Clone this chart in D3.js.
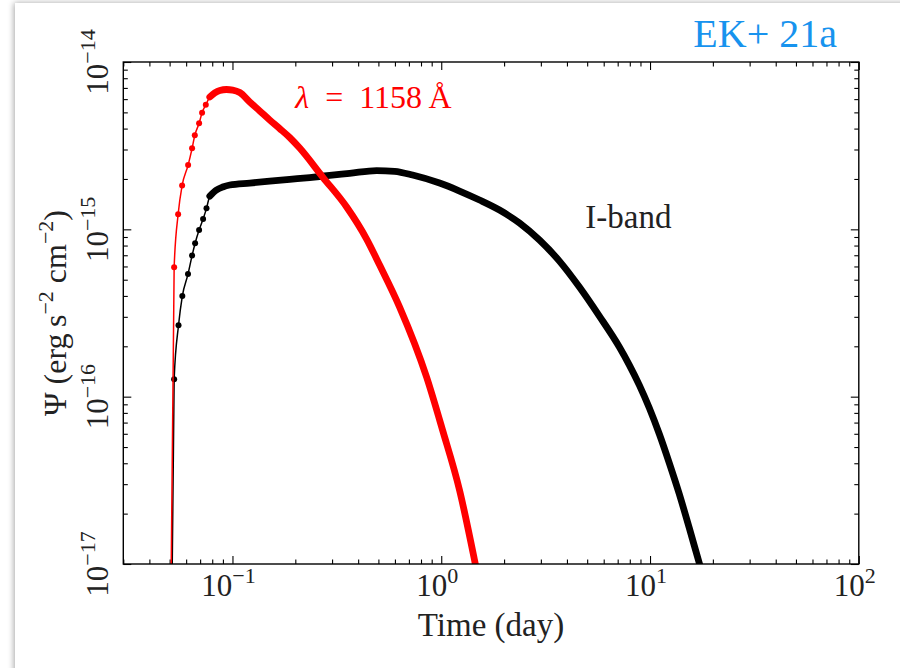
<!DOCTYPE html>
<html>
<head>
<meta charset="utf-8">
<script src="https://cdn.jsdelivr.net/npm/d3@7"></script>
<style>
  html, body { margin: 0; padding: 0; background: #fff; }
  svg { display: block; }
  text { font-family: "Liberation Serif", "DejaVu Serif", serif; }
</style>
</head>
<body>
<svg id="chart" width="900" height="668"></svg>
<script>
// Light curve at λ = 1158 Å (time in days, flux Ψ in erg s^-2 cm^-2)
const uvTime = [0.0500, 0.05256, 0.05492, 0.05740, 0.06131, 0.06406, 0.06601, 0.06921, 0.07152, 0.07452,
  0.07788, 0.08228, 0.08695, 0.09361, 0.1003, 0.1084, 0.1210, 0.1351, 0.1508, 0.1684,
  0.1880, 0.2099, 0.2705, 0.3523, 0.4391, 0.5068, 0.6318, 0.8506, 1.0144, 1.2238,
  1.4436, 1.5255];
const uvFlux = [1e-18, 5.93e-16, 1.23e-15, 1.83e-15, 2.42e-15, 3.05e-15, 3.65e-15, 4.30e-15, 4.98e-15, 5.55e-15,
  6.18e-15, 6.53e-15, 6.76e-15, 6.85e-15, 6.80e-15, 6.57e-15, 5.77e-15, 5.10e-15, 4.50e-15, 4.00e-15,
  3.54e-15, 3.06e-15, 2.054e-15, 1.36e-15, 8.75e-16, 6.12e-16, 3.43e-16, 1.31e-16, 6.32e-17, 2.76e-17,
  1.055e-17, 7.48e-18];

// I-band light curve
const iTime = [0.0505, 0.05256, 0.05516, 0.05752, 0.06124, 0.06406, 0.06624, 0.06921, 0.07233, 0.07510,
  0.07788, 0.08384, 0.08987, 0.09707, 0.1210, 0.1508, 0.1880, 0.2344, 0.2921, 0.3641,
  0.4902, 0.5979, 0.7290, 0.9815, 1.2238, 1.5255, 1.9011, 2.3703, 2.9544, 3.6813,
  4.5887, 5.7204, 7.1304, 7.9616, 8.8873, 9.9248, 11.08, 12.37, 13.81, 15.42,
  17.22, 18.19];
const iFlux = [1e-18, 1.27e-16, 2.67e-16, 3.99e-16, 5.40e-16, 6.97e-16, 8.25e-16, 9.90e-16, 1.152e-15, 1.335e-15,
  1.581e-15, 1.717e-15, 1.79e-15, 1.84e-15, 1.89e-15, 1.94e-15, 1.99e-15, 2.04e-15, 2.10e-15, 2.16e-15,
  2.246e-15, 2.22e-15, 2.11e-15, 1.89e-15, 1.694e-15, 1.497e-15, 1.304e-15, 1.091e-15, 8.63e-16, 6.46e-16,
  4.52e-16, 3.03e-16, 1.98e-16, 1.545e-16, 1.173e-16, 8.55e-17, 5.98e-17, 4.01e-17, 2.62e-17, 1.64e-17,
  1.012e-17, 8.01e-18];

// Axis ranges and tick labels
const xDomain = [0.03, 100];
const yDomain = [1e-17, 1e-14];
const xMajor = [0.1, 1, 10, 100];
const xMajorExp = ["\u22121", "0", "1", "2"];
const yMajor = [1e-17, 1e-16, 1e-15, 1e-14];
const yMajorExp = ["\u221217", "\u221216", "\u221215", "\u221214"];
// Samples after this time are spaced so closely that the markers merge into a band
const denseFrom = 0.077;

const svg = d3.select("#chart");
const W = 900, H = 668;
const plot = { left: 123.3, right: 858.8, top: 62, bottom: 564 };

// card with soft shadow
const defs = svg.append("defs");
const f = defs.append("filter").attr("id", "shadow")
  .attr("x", "-5%").attr("y", "-5%").attr("width", "110%").attr("height", "110%");
f.append("feDropShadow").attr("dx", -1).attr("dy", 0).attr("stdDeviation", 3)
  .attr("flood-color", "#000").attr("flood-opacity", 0.35);
svg.append("rect").attr("x", 0).attr("y", 0).attr("width", W).attr("height", H).attr("fill", "#fff");
svg.append("rect").attr("x", 15).attr("y", 3).attr("width", W + 40).attr("height", H + 40)
  .attr("fill", "#fff").attr("filter", "url(#shadow)");

defs.append("clipPath").attr("id", "plotClip").append("rect")
  .attr("x", plot.left).attr("y", plot.top)
  .attr("width", plot.right - plot.left).attr("height", plot.bottom - plot.top);

const x = d3.scaleLog().domain(xDomain).range([plot.left, plot.right]);
const y = d3.scaleLog().domain(yDomain).range([plot.bottom, plot.top]);

function minorTicks(domain) {
  const out = [];
  const lo = Math.floor(Math.log10(domain[0])), hi = Math.ceil(Math.log10(domain[1]));
  for (let d = lo; d < hi; d++) {
    for (let k = 2; k <= 9; k++) {
      const v = k * Math.pow(10, d);
      if (v >= domain[0] * 0.999 && v <= domain[1] * 1.001) out.push(v);
    }
  }
  return out;
}
const xMinor = minorTicks(xDomain);
const yMinor = minorTicks(yDomain);

// inward ticks on all four sides
function drawAxis(axisFn, scale, values, size, transform) {
  const g = svg.append("g").attr("transform", transform)
    .call(axisFn(scale).tickValues(values).tickSizeInner(size).tickSizeOuter(0).tickFormat(""));
  g.select(".domain").remove();
  g.selectAll(".tick line").attr("stroke", "#000").attr("stroke-width", 1.1);
  return g;
}
drawAxis(d3.axisBottom, x, xMajor, -8, `translate(0,${plot.bottom})`);
drawAxis(d3.axisBottom, x, xMinor, -4.5, `translate(0,${plot.bottom})`);
drawAxis(d3.axisTop, x, xMajor, -8, `translate(0,${plot.top})`);
drawAxis(d3.axisTop, x, xMinor, -4.5, `translate(0,${plot.top})`);
drawAxis(d3.axisLeft, y, yMajor, -8, `translate(${plot.left},0)`);
drawAxis(d3.axisLeft, y, yMinor, -4.5, `translate(${plot.left},0)`);
drawAxis(d3.axisRight, y, yMajor, -8, `translate(${plot.right},0)`);
drawAxis(d3.axisRight, y, yMinor, -4.5, `translate(${plot.right},0)`);

// curves
const series = [
  { t: iTime, f: iFlux, color: "#000" },
  { t: uvTime, f: uvFlux, color: "#ff0000" }
];
const gData = svg.append("g").attr("clip-path", "url(#plotClip)");
const line = d3.line().x(d => x(d[0])).y(d => y(d[1])).curve(d3.curveMonotoneX);
series.forEach(s => {
  const pts = s.t.map((t, i) => [t, s.f[i]]);
  gData.append("path").datum(pts).attr("d", line)
    .attr("fill", "none").attr("stroke", s.color).attr("stroke-width", 1.5);
  const dense = pts.filter(p => p[0] >= denseFrom);
  gData.append("path").datum(dense).attr("d", line)
    .attr("fill", "none").attr("stroke", s.color).attr("stroke-width", 6.8)
    .attr("stroke-linecap", "round").attr("stroke-linejoin", "round");
  gData.selectAll(null).data(pts.filter(p => p[0] < denseFrom)).enter().append("circle")
    .attr("cx", d => x(d[0])).attr("cy", d => y(d[1])).attr("r", 3)
    .attr("fill", s.color);
});

// frame
svg.append("rect").attr("x", plot.left).attr("y", plot.top)
  .attr("width", plot.right - plot.left).attr("height", plot.bottom - plot.top)
  .attr("fill", "none").attr("stroke", "#000").attr("stroke-width", 1.4);

// tick labels: 10^n
const labelColor = "#222";
xMajor.forEach((v, i) => {
  const t = svg.append("text").attr("x", x(v) - 4).attr("y", 596)
    .attr("text-anchor", "middle").attr("font-size", 31).attr("fill", labelColor);
  t.append("tspan").text("10");
  t.append("tspan").attr("dy", -13).attr("font-size", 22).text(xMajorExp[i]);
});
yMajor.forEach((v, i) => {
  const t = svg.append("text")
    .attr("transform", `translate(108,${y(v)}) rotate(-90)`)
    .attr("text-anchor", "middle").attr("font-size", 31).attr("fill", labelColor);
  t.append("tspan").text("10");
  t.append("tspan").attr("dy", -13).attr("font-size", 22).text(yMajorExp[i]);
});

// axis titles
svg.append("text").attr("x", (plot.left + plot.right) / 2).attr("y", 636)
  .attr("text-anchor", "middle").attr("font-size", 33).attr("fill", labelColor)
  .text("Time (day)");
const yl = svg.append("text")
  .attr("transform", `translate(66,${(plot.top + plot.bottom) / 2}) rotate(-90)`)
  .attr("text-anchor", "middle").attr("font-size", 32).attr("fill", labelColor);
yl.append("tspan").text("\u03A8 (erg\u2009s");
yl.append("tspan").attr("dy", -13).attr("font-size", 22).text("\u22122");
yl.append("tspan").attr("dy", 13).text(" cm");
yl.append("tspan").attr("dy", -13).attr("font-size", 22).text("\u22122");
yl.append("tspan").attr("dy", 13).text(")");

// curve annotations
const ann1 = svg.append("text").attr("x", x(0.2)).attr("y", y(5.3e-15))
  .attr("font-size", 32).attr("fill", "#ff0000");
ann1.append("tspan").attr("font-style", "italic").text("\u03BB");
ann1.append("tspan").text("\u2002=\u20021158\u2009\u00C5");
svg.append("text").attr("x", x(4.9)).attr("y", y(1.02e-15))
  .attr("font-size", 33).attr("fill", labelColor).text("I-band");

// corner tag
svg.append("text").attr("x", 837).attr("y", 47).attr("text-anchor", "end")
  .attr("font-size", 40).attr("fill", "#1793ee").text("EK+ 21a");
</script>
</body>
</html>
